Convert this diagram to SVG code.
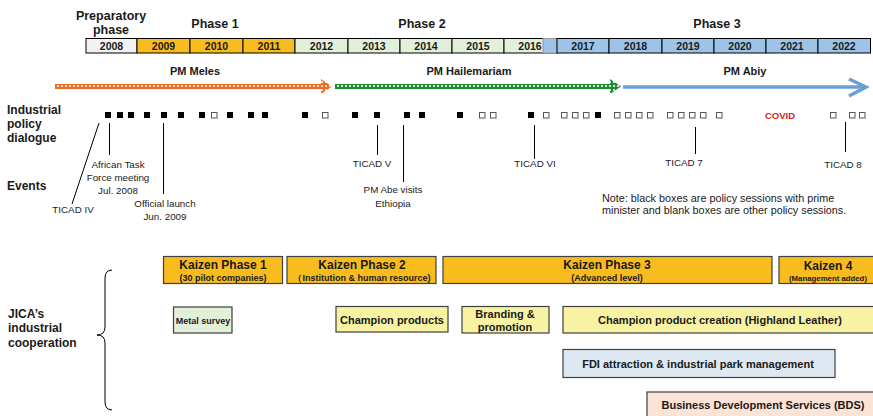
<svg xmlns="http://www.w3.org/2000/svg" width="873" height="416" viewBox="0 0 873 416">
<style>
text{font-family:"Liberation Sans",Arial,sans-serif;fill:#1a1a1a}
.b{font-weight:bold}
.lbl{font-size:12px;font-weight:bold}
.ph{font-size:12.5px;font-weight:bold;text-anchor:middle}
.yr{font-size:10.5px;font-weight:bold;text-anchor:middle}
.pm{font-size:11px;font-weight:bold;text-anchor:middle}
.ev{font-size:9.8px;text-anchor:middle}
.c{text-anchor:middle}
.cell{stroke:#000;stroke-width:1}
.blk{fill:#000}
.wht{fill:#fff;stroke:#555;stroke-width:1}
.kz{fill:#f8bc1e;stroke:#404040;stroke-width:1.2}
.kt{font-size:12px;font-weight:bold;text-anchor:middle}
.ks{font-size:9px;font-weight:bold;text-anchor:middle}
.bx{stroke:#404040;stroke-width:1.2}
.bt{font-size:11px;font-weight:bold;text-anchor:middle}
.ln{stroke:#000;stroke-width:1;fill:none}
</style>
<defs>
<pattern id="patO" patternUnits="userSpaceOnUse" width="4" height="4">
<rect width="4" height="4" fill="#f26b21"/>
<circle cx="2" cy="2" r="1.1" fill="#fff"/>
</pattern>
<pattern id="patG" patternUnits="userSpaceOnUse" width="4" height="4">
<rect width="4" height="4" fill="#1e8c32"/>
<circle cx="2" cy="2" r="1.1" fill="#fff"/>
</pattern>
</defs>

<g id="phases">
<text class="ph" x="111" y="20">Preparatory</text>
<text class="ph" x="111" y="34">phase</text>
<text class="ph" x="215" y="28">Phase 1</text>
<text class="ph" x="422" y="28">Phase 2</text>
<text class="ph" x="717" y="28">Phase 3</text>
</g>

<g id="years">
<rect class="cell" x="86" y="38.5" width="51" height="14.5" fill="#f2f2f2"/>
<rect class="cell" x="137" y="38.5" width="53" height="14.5" fill="#f8bc1e"/>
<rect class="cell" x="190" y="38.5" width="53" height="14.5" fill="#f8bc1e"/>
<rect class="cell" x="243" y="38.5" width="52" height="14.5" fill="#f8bc1e"/>
<rect class="cell" x="295" y="38.5" width="53" height="14.5" fill="#e2efd9"/>
<rect class="cell" x="348" y="38.5" width="52" height="14.5" fill="#e2efd9"/>
<rect class="cell" x="400" y="38.5" width="52" height="14.5" fill="#e2efd9"/>
<rect class="cell" x="452" y="38.5" width="52" height="14.5" fill="#e2efd9"/>
<rect class="cell" x="504" y="38.5" width="53" height="14.5" fill="#e2efd9"/>
<rect x="543" y="38.5" width="14" height="14.5" fill="#9dc3e6" stroke="#999" stroke-width="1"/>
<rect class="cell" x="557" y="38.5" width="52" height="14.5" fill="#9dc3e6"/>
<rect class="cell" x="609" y="38.5" width="53" height="14.5" fill="#9dc3e6"/>
<rect class="cell" x="662" y="38.5" width="52" height="14.5" fill="#9dc3e6"/>
<rect class="cell" x="714" y="38.5" width="52" height="14.5" fill="#9dc3e6"/>
<rect class="cell" x="766" y="38.5" width="52" height="14.5" fill="#9dc3e6"/>
<rect class="cell" x="818" y="38.5" width="52.5" height="14.5" fill="#9dc3e6"/>
<text class="yr" x="111.5" y="50">2008</text>
<text class="yr" x="163.5" y="50">2009</text>
<text class="yr" x="216.5" y="50">2010</text>
<text class="yr" x="269" y="50">2011</text>
<text class="yr" x="321.5" y="50">2012</text>
<text class="yr" x="374" y="50">2013</text>
<text class="yr" x="426" y="50">2014</text>
<text class="yr" x="478" y="50">2015</text>
<text class="yr" x="530" y="50">2016</text>
<text class="yr" x="583" y="50">2017</text>
<text class="yr" x="635.5" y="50">2018</text>
<text class="yr" x="688" y="50">2019</text>
<text class="yr" x="740" y="50">2020</text>
<text class="yr" x="792" y="50">2021</text>
<text class="yr" x="844" y="50">2022</text>
</g>

<g id="pm-meles">
<text class="pm" x="195" y="75">PM Meles</text>
<rect x="55" y="84" width="268" height="5" fill="url(#patO)"/>
<polygon points="321,79 332,86.5 321,94" fill="url(#patO)"/>
</g>
<g id="pm-hailemariam">
<text class="pm" x="469" y="75">PM Hailemariam</text>
<rect x="335" y="84" width="277" height="5" fill="url(#patG)"/>
<polygon points="610,79 621,86.5 610,94" fill="url(#patG)"/>
</g>
<g id="pm-abiy">
<text class="pm" x="745" y="75">PM Abiy</text>
<line x1="623" y1="87" x2="866" y2="87" stroke="#6a9fd6" stroke-width="3.5"/>
<polyline points="849,79 866,87 849,96" fill="none" stroke="#6a9fd6" stroke-width="3.5" stroke-linejoin="miter"/>
</g>

<g id="labels">
<text class="lbl" x="7" y="114">Industrial</text>
<text class="lbl" x="7" y="128">policy</text>
<text class="lbl" x="7" y="142">dialogue</text>
<text class="lbl" x="7" y="190">Events</text>
<text class="lbl" x="8" y="318">JICA’s</text>
<text class="lbl" x="8" y="332">industrial</text>
<text class="lbl" x="8" y="347">cooperation</text>
</g>

<g id="policy-sessions">
<rect class="blk" x="105" y="112" width="6" height="6"/>
<rect class="blk" x="117" y="112" width="6" height="6"/>
<rect class="blk" x="128" y="112" width="6" height="6"/>
<rect class="blk" x="144" y="112" width="6" height="6"/>
<rect class="blk" x="161" y="112" width="6" height="6"/>
<rect class="blk" x="178" y="112" width="6" height="6"/>
<rect class="blk" x="199" y="112" width="6" height="6"/>
<rect class="wht" x="211.5" y="112.5" width="5.5" height="5.5"/>
<rect class="blk" x="227" y="112" width="6" height="6"/>
<rect class="blk" x="248" y="112" width="6" height="6"/>
<rect class="blk" x="262" y="112" width="6" height="6"/>
<rect class="blk" x="302" y="112" width="6" height="6"/>
<rect class="wht" x="322.5" y="112.5" width="5.5" height="5.5"/>
<rect class="blk" x="352" y="112" width="6" height="6"/>
<rect class="blk" x="374" y="112" width="6" height="6"/>
<rect class="blk" x="404" y="112" width="6" height="6"/>
<rect class="blk" x="419" y="112" width="6" height="6"/>
<rect class="blk" x="457" y="112" width="6" height="6"/>
<rect class="wht" x="479.5" y="112.5" width="5.5" height="5.5"/>
<rect class="wht" x="490.5" y="112.5" width="5.5" height="5.5"/>
<rect class="blk" x="528" y="112" width="6" height="6"/>
<rect class="wht" x="543.5" y="112.5" width="5.5" height="5.5"/>
<rect class="wht" x="561.5" y="112.5" width="5.5" height="5.5"/>
<rect class="wht" x="572.5" y="112.5" width="5.5" height="5.5"/>
<rect class="wht" x="583.5" y="112.5" width="5.5" height="5.5"/>
<rect class="blk" x="595" y="112" width="6" height="6"/>
<rect class="wht" x="614.5" y="112.5" width="5.5" height="5.5"/>
<rect class="wht" x="625.5" y="112.5" width="5.5" height="5.5"/>
<rect class="wht" x="636.5" y="112.5" width="5.5" height="5.5"/>
<rect class="wht" x="647.5" y="112.5" width="5.5" height="5.5"/>
<rect class="wht" x="667.5" y="112.5" width="5.5" height="5.5"/>
<rect class="wht" x="678.5" y="112.5" width="5.5" height="5.5"/>
<rect class="wht" x="689.5" y="112.5" width="5.5" height="5.5"/>
<rect class="wht" x="700.5" y="112.5" width="5.5" height="5.5"/>
<rect class="wht" x="716.5" y="112.5" width="5.5" height="5.5"/>
<text x="780" y="118.5" font-size="9.5" font-weight="bold" text-anchor="middle" style="fill:#d0262a">COVID</text>
<rect class="wht" x="830.5" y="112.5" width="5.5" height="5.5"/>
<rect class="wht" x="849.5" y="112.5" width="5.5" height="5.5"/>
<rect class="wht" x="859.5" y="112.5" width="5.5" height="5.5"/>
</g>

<g id="connectors">
<line class="ln" x1="99" y1="123" x2="72" y2="204"/>
<line class="ln" x1="109.5" y1="123" x2="109.5" y2="155"/>
<line class="ln" x1="163.5" y1="123" x2="163.5" y2="194"/>
<line class="ln" x1="377.5" y1="125" x2="377.5" y2="155"/>
<line class="ln" x1="403.5" y1="125" x2="403.5" y2="182"/>
<line class="ln" x1="534.5" y1="125" x2="534.5" y2="159"/>
<line class="ln" x1="695.5" y1="127" x2="695.5" y2="154"/>
<line class="ln" x1="845.5" y1="122" x2="845.5" y2="152"/>
<path class="ln" d="M112,270 Q105,270 105,278 L105,327 Q105,335 97,335 Q105,335 105,343 L105,402 Q105,410 112,410" stroke-width="1.2"/>
</g>

<g id="events">
<text class="ev" x="73" y="213">TICAD IV</text>
<text class="ev" x="118" y="168">African Task</text>
<text class="ev" x="118" y="181">Force meeting</text>
<text class="ev" x="118" y="194">Jul. 2008</text>
<text class="ev" x="165" y="207">Official launch</text>
<text class="ev" x="165" y="220">Jun. 2009</text>
<text class="ev" x="372" y="167">TICAD V</text>
<text class="ev" x="393" y="193">PM Abe visits</text>
<text class="ev" x="393" y="207">Ethiopia</text>
<text class="ev" x="535" y="167">TICAD VI</text>
<text class="ev" x="684" y="166">TICAD 7</text>
<text class="ev" x="843" y="168">TICAD 8</text>
</g>

<g id="note">
<text x="602" y="202" font-size="10.8">Note: black boxes are policy sessions with prime</text>
<text x="602" y="214" font-size="10.8">minister and blank boxes are other policy sessions.</text>
</g>

<g id="kaizen1">
<rect class="kz" x="163.5" y="256.5" width="119" height="27"/>
<text class="kt" x="223" y="269">Kaizen Phase 1</text>
<text class="ks" x="223" y="280.5">(30 pilot companies)</text>
</g>
<g id="kaizen2">
<rect class="kz" x="287" y="256.5" width="149" height="27"/>
<text class="kt" x="362" y="269">Kaizen Phase 2</text>
<text class="ks" x="362" y="280.5">（Institution &amp; human resource)</text>
</g>
<g id="kaizen3">
<rect class="kz" x="443" y="256.5" width="329" height="27"/>
<text class="kt" x="607" y="269">Kaizen Phase 3</text>
<text class="ks" x="607" y="280.5">(Advanced level)</text>
</g>
<g id="kaizen4">
<rect class="kz" x="779" y="256.5" width="100" height="27"/>
<text class="kt" x="828" y="270">Kaizen 4</text>
<text x="828" y="280.5" font-size="7.8" font-weight="bold" text-anchor="middle">(Management added)</text>
</g>

<g id="metal-survey">
<rect class="bx" x="173.5" y="307" width="58.5" height="26" fill="#e2efd9"/>
<text x="203" y="323.5" font-size="9" font-weight="bold" text-anchor="middle">Metal survey</text>
</g>
<g id="champion-products">
<rect class="bx" x="336" y="306.5" width="112" height="25.5" fill="#f8f3a2"/>
<text class="bt" x="392" y="323.5">Champion products</text>
</g>
<g id="branding">
<rect class="bx" x="462" y="306.5" width="87" height="26.5" fill="#f8f3a2"/>
<text class="bt" x="505" y="318">Branding &amp;</text>
<text class="bt" x="505" y="330.5">promotion</text>
</g>
<g id="champion-creation">
<rect class="bx" x="563" y="306.5" width="320" height="26.5" fill="#f8f3a2"/>
<text class="bt" x="720" y="323.5">Champion product creation (Highland Leather)</text>
</g>
<g id="fdi">
<rect class="bx" x="563" y="349.5" width="272" height="28" fill="#dde8f3"/>
<text class="bt" x="698" y="367.5">FDI attraction &amp; industrial park management</text>
</g>
<g id="bds">
<rect class="bx" x="647" y="392" width="240" height="30" fill="#fbe3d6"/>
<text class="bt" x="763" y="409">Business Development Services (BDS)</text>
</g>
</svg>
